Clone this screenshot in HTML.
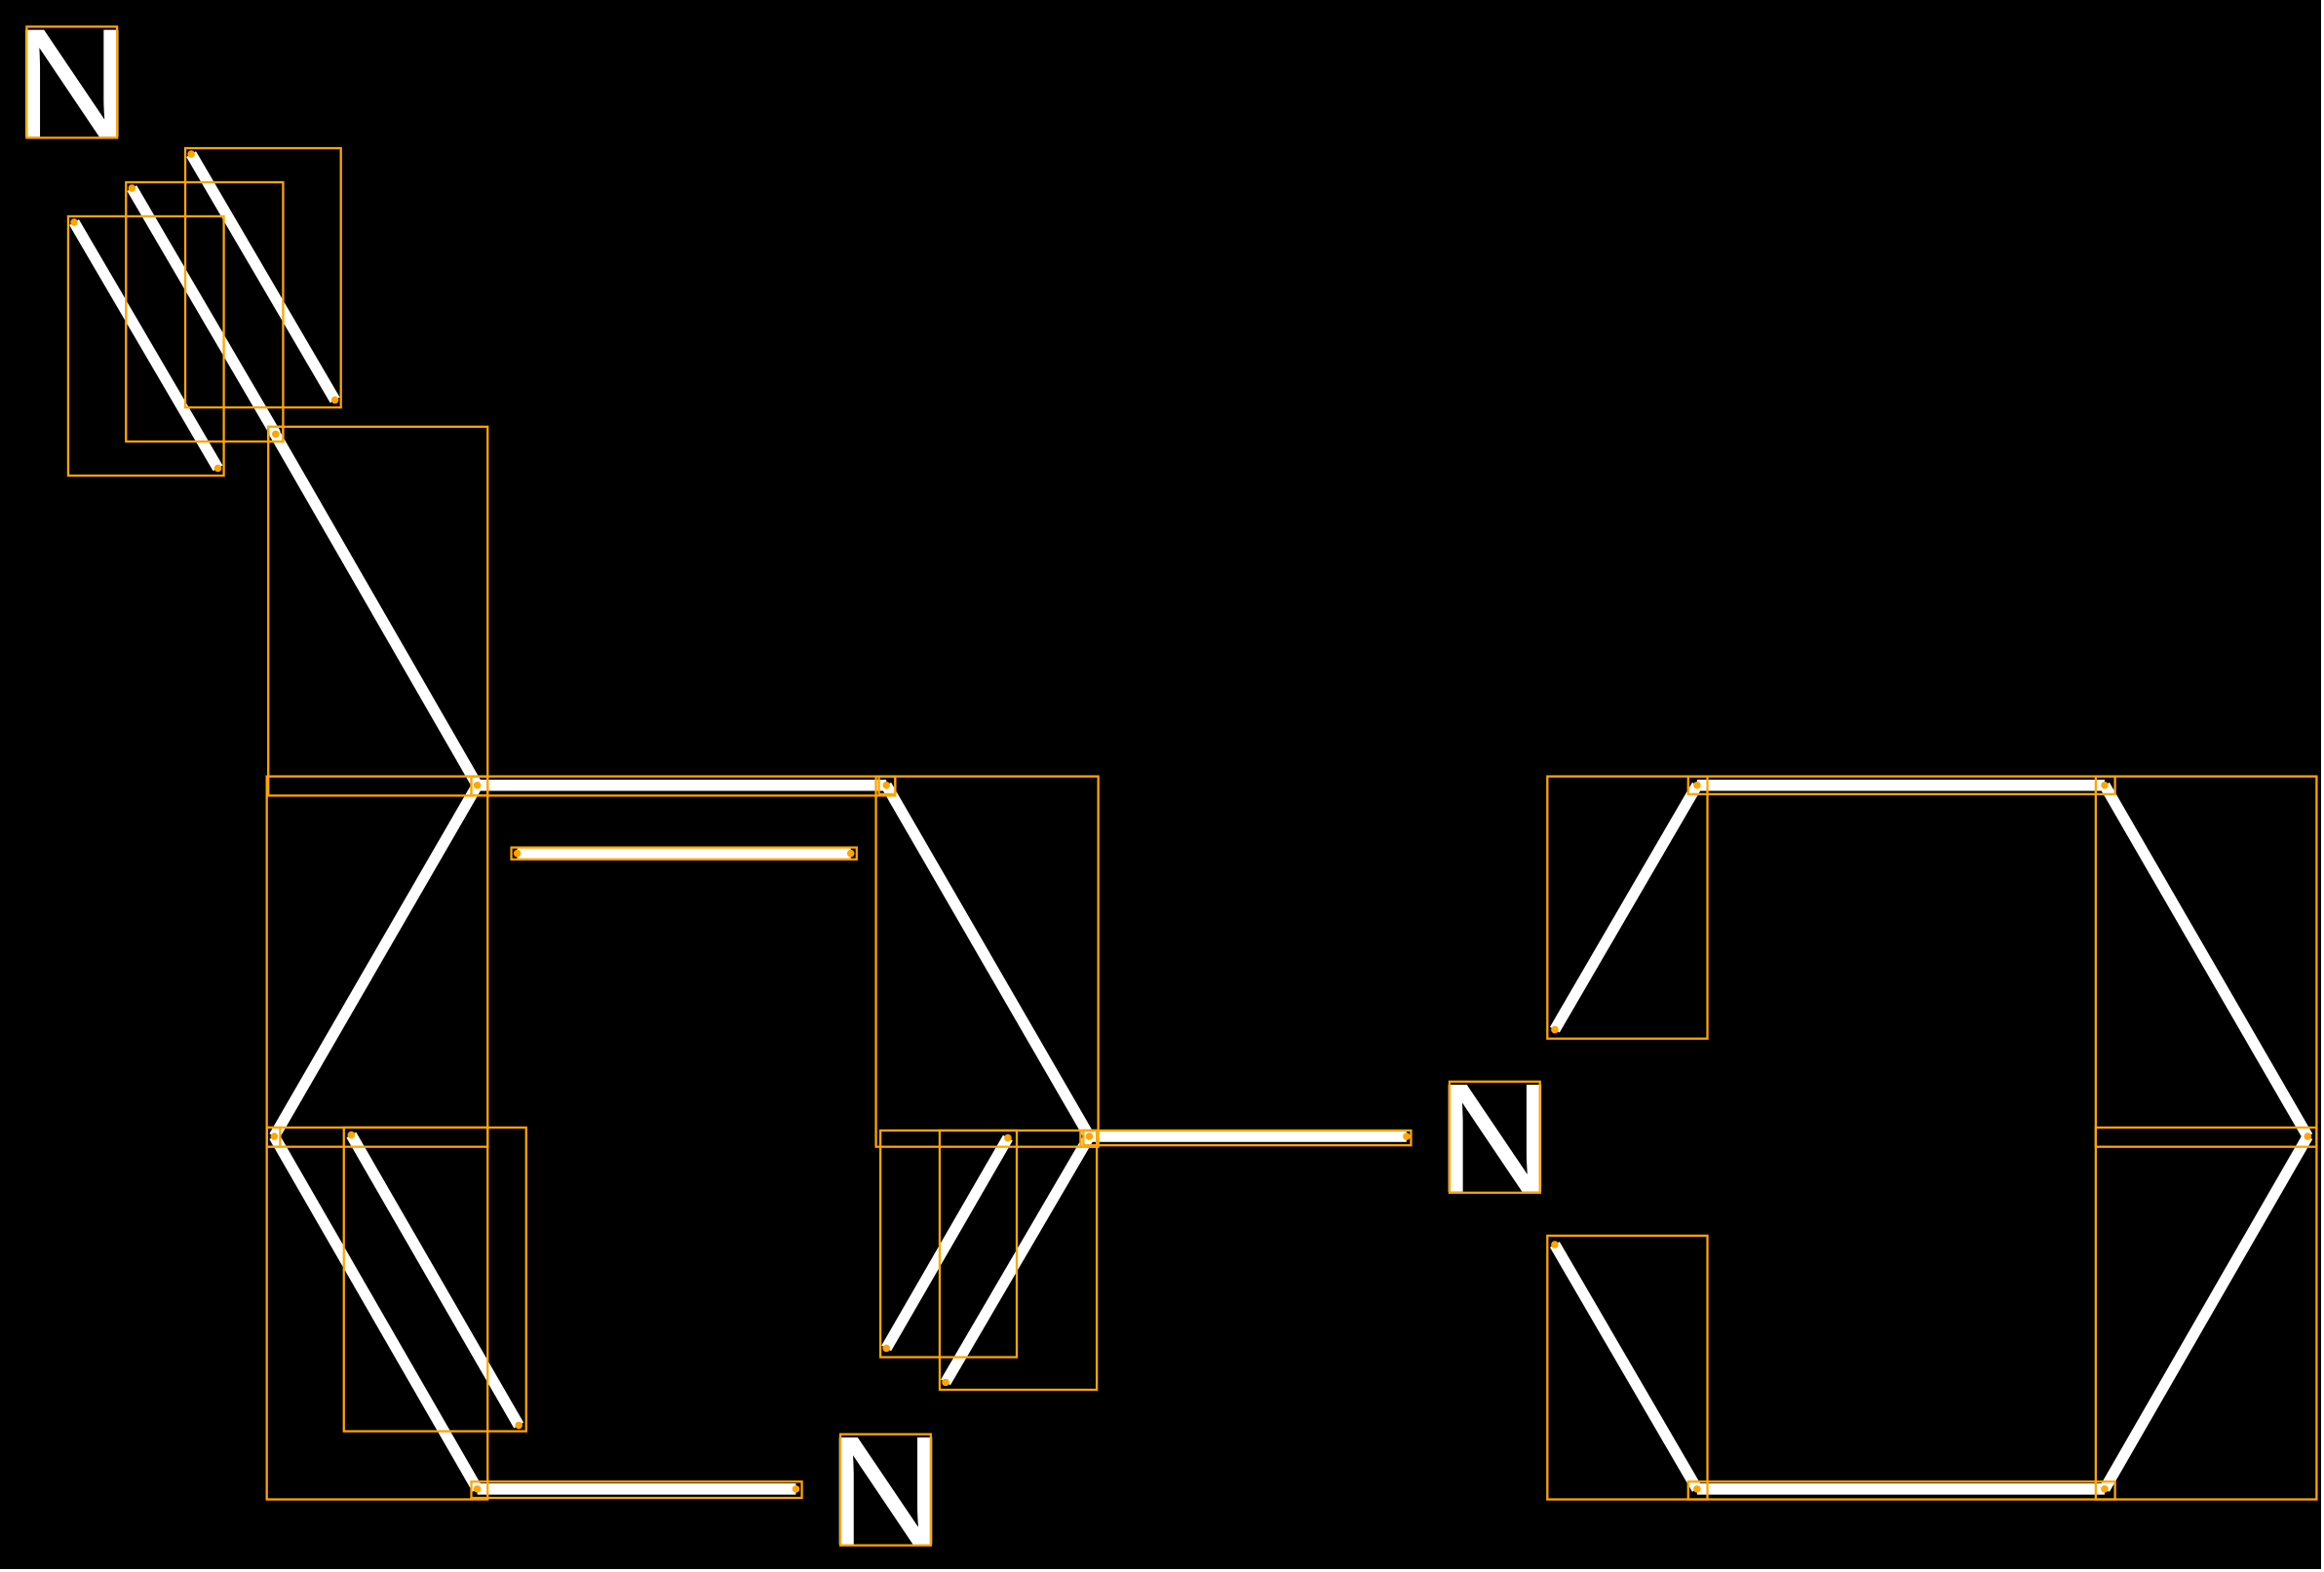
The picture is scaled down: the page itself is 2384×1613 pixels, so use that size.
<!DOCTYPE html>
<html><head><style>html,body{margin:0;padding:0;background:#fff;}svg{display:block;}</style></head>
<body>
<svg width="2384" height="1613" viewBox="0 0 1568 1061" preserveAspectRatio="none" xmlns="http://www.w3.org/2000/svg">
<rect x="0" y="0" width="1566" height="1059" fill="#000"/>
<g stroke="#fff" stroke-width="7.5" stroke-linecap="butt">
<line x1="50" y1="150" x2="147" y2="316"/>
<line x1="89" y1="127" x2="186" y2="293"/>
<line x1="129" y1="104" x2="226" y2="270"/>
<line x1="185" y1="292" x2="322" y2="530"/>
<line x1="322" y1="530" x2="598" y2="530"/>
<line x1="349" y1="576" x2="574" y2="576"/>
<line x1="322" y1="530" x2="185" y2="767"/>
<line x1="598" y1="530" x2="735" y2="767"/>
<line x1="185" y1="767" x2="322" y2="1005"/>
<line x1="237" y1="766" x2="350" y2="962"/>
<line x1="322" y1="1005" x2="537" y2="1005"/>
<line x1="735" y1="767" x2="638" y2="933"/>
<line x1="680" y1="768" x2="598" y2="910"/>
<line x1="735" y1="767" x2="949" y2="767"/>
<line x1="1049" y1="695" x2="1145" y2="530"/>
<line x1="1145" y1="530" x2="1420" y2="530"/>
<line x1="1420" y1="530" x2="1557" y2="767"/>
<line x1="1557" y1="767" x2="1420" y2="1005"/>
<line x1="1145" y1="1005" x2="1420" y2="1005"/>
<line x1="1049" y1="840" x2="1145" y2="1005"/>
</g>
<g fill="#fff" stroke="#fff" stroke-width="0.6" font-family="Liberation Sans, sans-serif" font-size="104" text-anchor="middle">
<text x="48.5" y="92" transform="translate(48.5 0) scale(1.07 1) translate(-48.5 0)">N</text>
<text x="1008.5" y="804" transform="translate(1008.5 0) scale(1.07 1) translate(-1008.5 0)">N</text>
<text x="597.5" y="1042" transform="translate(597.5 0) scale(1.07 1) translate(-597.5 0)">N</text>
</g>
<g fill="none" stroke="#FFA500" stroke-width="1.5">
<rect x="18" y="18" width="61" height="75"/>
<rect x="978" y="730" width="61" height="75"/>
<rect x="567" y="968" width="61" height="75"/>
<rect x="46" y="146" width="105" height="175"/>
<rect x="85" y="123" width="106" height="175"/>
<rect x="125" y="100" width="105" height="175"/>
<rect x="181" y="288" width="148" height="249"/>
<rect x="318" y="524" width="286" height="13"/>
<rect x="345" y="572" width="233" height="8"/>
<rect x="180" y="524" width="149" height="250"/>
<rect x="591" y="524" width="150" height="250"/>
<rect x="180" y="761" width="149" height="251"/>
<rect x="232" y="761" width="123" height="205"/>
<rect x="318" y="1000" width="223" height="11"/>
<rect x="634" y="763" width="106" height="175"/>
<rect x="594" y="763" width="92" height="153"/>
<rect x="731" y="763" width="221" height="10"/>
<rect x="1044" y="524" width="108" height="177"/>
<rect x="1139" y="524" width="288" height="12"/>
<rect x="1414" y="524" width="149" height="250"/>
<rect x="1414" y="761" width="149" height="251"/>
<rect x="1139" y="1000" width="288" height="12"/>
<rect x="1044" y="834" width="108" height="178"/>
<rect x="181" y="288" width="10" height="10"/>
<rect x="318" y="524" width="11" height="13"/>
<rect x="593" y="524" width="11" height="12"/>
<rect x="180" y="761" width="9" height="13"/>
<rect x="729" y="763" width="11" height="11"/>
</g>
<g fill="#FFA500">
<circle cx="50" cy="150" r="2.5"/><circle cx="147" cy="316" r="2.5"/>
<circle cx="89" cy="127" r="2.5"/><circle cx="186" cy="293" r="2.5"/>
<circle cx="129" cy="104" r="2.5"/><circle cx="226" cy="270" r="2.5"/>
<circle cx="322" cy="530" r="2.5"/><circle cx="598" cy="530" r="2.5"/>
<circle cx="349" cy="576" r="2.5"/><circle cx="574" cy="576" r="2.5"/>
<circle cx="185" cy="767" r="2.5"/><circle cx="735" cy="767" r="2.5"/>
<circle cx="237" cy="766" r="2.5"/><circle cx="350" cy="962" r="2.5"/>
<circle cx="322" cy="1005" r="2.5"/><circle cx="537" cy="1005" r="2.5"/>
<circle cx="638" cy="933" r="2.5"/><circle cx="680" cy="768" r="2.5"/>
<circle cx="598" cy="910" r="2.5"/><circle cx="949" cy="767" r="2.5"/>
<circle cx="1049" cy="695" r="2.5"/><circle cx="1145" cy="530" r="2.5"/>
<circle cx="1420" cy="530" r="2.5"/><circle cx="1557" cy="767" r="2.5"/>
<circle cx="1420" cy="1005" r="2.5"/><circle cx="1145" cy="1005" r="2.5"/>
<circle cx="1049" cy="840" r="2.5"/>
</g>
</svg>
</body></html>
